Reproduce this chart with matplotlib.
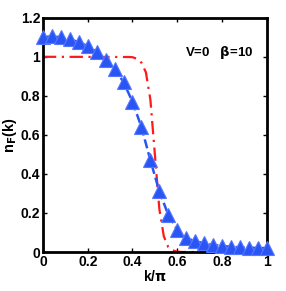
import matplotlib
matplotlib.use("Agg")
import matplotlib.pyplot as plt

plt.rcParams["font.family"] = ["Liberation Sans", "DejaVu Sans"]
plt.rcParams["font.weight"] = "bold"
plt.rcParams["mathtext.default"] = "bf"

# QMC data (triangles + dashed line)
k_qmc = [0.00, 0.04, 0.08, 0.12, 0.16, 0.20, 0.24, 0.28, 0.32, 0.36,
         0.40, 0.44, 0.48, 0.52, 0.56, 0.60, 0.64, 0.68, 0.72, 0.76,
         0.80, 0.84, 0.88, 0.92, 0.96, 1.00]
n_qmc = [1.100, 1.105, 1.100, 1.090, 1.075, 1.055, 1.025, 0.985, 0.940, 0.870,
         0.770, 0.640, 0.470, 0.310, 0.190, 0.115, 0.072, 0.055, 0.045, 0.037,
         0.031, 0.027, 0.024, 0.022, 0.021, 0.020]

# free-fermion reference curve (red dash-dot)
k_free = [0.00, 0.38, 0.40, 0.42, 0.44, 0.46, 0.48, 0.50, 0.52, 0.54,
          0.56, 0.58, 0.60, 0.62, 1.00]
n_free = [1.000, 0.999, 0.998, 0.990, 0.970, 0.920, 0.780, 0.500, 0.220, 0.080,
          0.025, 0.008, 0.002, 0.000, 0.000]

fig = plt.figure(figsize=(2.86, 2.91), dpi=100)
ax = fig.add_axes([0.150, 0.134, 0.783, 0.805])

ax.plot(k_free, n_free, color="#ff1a1a", linestyle="-.", linewidth=1.6,
        dashes=(6, 2.5, 1, 2.5), zorder=2)
ax.plot(k_qmc, n_qmc, color="#2a55f5", linestyle="--", linewidth=1.8, zorder=3)
ax.plot(k_qmc, n_qmc, linestyle="none", marker="^", markersize=10,
        markerfacecolor="#2a55f5", markeredgecolor="#5577ff",
        markeredgewidth=0.8, clip_on=False, zorder=4)

ax.set_xlim(0, 1)
ax.set_ylim(0, 1.2)
ax.set_xticks([0, 0.2, 0.4, 0.6, 0.8, 1])
ax.set_xticklabels(["0", "0.2", "0.4", "0.6", "0.8", "1"])
ax.set_yticks([0, 0.2, 0.4, 0.6, 0.8, 1, 1.2])
ax.set_yticklabels(["0", "0.2", "0.4", "0.6", "0.8", "1", "1.2"])
ax.tick_params(direction="in", length=3, width=1, labelsize=10, pad=2,
               top=True, right=True)
for lab in ax.get_xticklabels() + ax.get_yticklabels():
    lab.set_fontweight("bold")
for sp in ax.spines.values():
    sp.set_linewidth(2)

ax.set_xlabel(r"k/$\pi$", fontsize=10, fontweight="bold", labelpad=0)
ax.set_ylabel(r"n$_\mathbf{F}$(k)", fontsize=10.5, fontweight="bold", labelpad=1)
ax.text(0.635, 1.02, r"V=0   $\beta$=10", fontsize=9.5, fontweight="bold",
        va="center", ha="left")

fig.savefig("out.png", dpi=100)
